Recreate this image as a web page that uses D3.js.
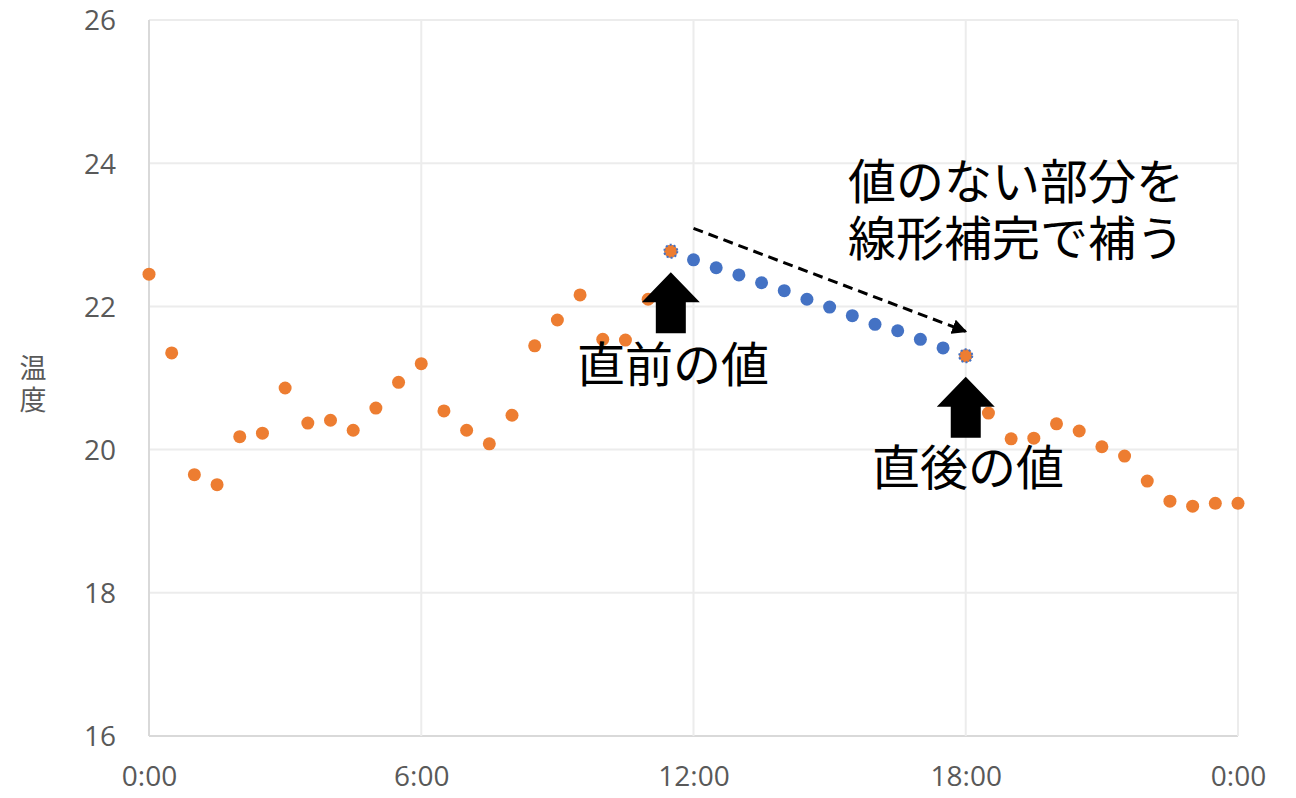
<!DOCTYPE html>
<html>
<head>
<meta charset="utf-8">
<script src="https://cdn.jsdelivr.net/npm/d3@7"></script>
<style>
  body { margin: 0; background: #fff; }
  svg { display: block; }
  .tick text { fill: #595959; font-family: "Open Sans", "Noto Sans", sans-serif; font-size: 28px; }
  .note { font-family: "Noto Sans CJK JP", sans-serif; font-size: 48px; fill: #000; }
</style>
</head>
<body>
<div id="chart"></div>
<script>
// hours of the day, every 30 minutes (24 = 0:00 next day)
var hours = d3.range(0, 24.5, 0.5);
// measured temperature, null where no value was recorded
var measured = [
  22.45, 21.35, 19.65, 19.51, 20.18, 20.23, 20.86, 20.37, 20.41, 20.27,
  20.58, 20.94, 21.20, 20.54, 20.27, 20.08, 20.48, 21.45, 21.81, 22.16,
  21.54, 21.53, 22.10, 22.77, null, null, null, null, null, null,
  null, null, null, null, null, null, 21.31, 20.51, 20.15, 20.16,
  20.36, 20.26, 20.04, 19.91, 19.56, 19.28, 19.21, 19.25, 19.25
];
// filled-in values, 11:30 to 18:00
var filledHours = d3.range(11.5, 18.5, 0.5);
var filled = [22.77, 22.65, 22.54, 22.44, 22.33, 22.22, 22.10, 21.99, 21.87, 21.75, 21.66, 21.54, 21.42, 21.31];
var xTicks = [0, 6, 12, 18, 24];
var yTicks = [16, 18, 20, 22, 24, 26];
var yTitle = ["温", "度"];

var width = 1296, height = 798;
var margin = { top: 20, right: 58, bottom: 62, left: 149 };
var graphWidth = width - margin.left - margin.right,
  graphHeight = height - margin.top - margin.bottom;

var svg = d3.select("#chart").append("svg").attr("width", width).attr("height", height);
var graph = svg.append("g").attr("transform", "translate(" + margin.left + "," + margin.top + ")");

var x = d3.scaleLinear().domain([0, 24]).range([0, graphWidth]);
var y = d3.scaleLinear().domain([16, 26]).range([graphHeight, 0]);

// gridlines
graph.append("g").selectAll("line").data(yTicks).enter().append("line")
  .attr("x1", 0).attr("x2", graphWidth)
  .attr("y1", function (d) { return y(d); }).attr("y2", function (d) { return y(d); })
  .attr("stroke", function (d) { return d === 16 ? "#d9d9d9" : "#ececec"; })
  .attr("stroke-width", 2);
graph.append("g").selectAll("line").data(xTicks).enter().append("line")
  .attr("y1", 0).attr("y2", graphHeight)
  .attr("x1", function (d) { return x(d); }).attr("x2", function (d) { return x(d); })
  .attr("stroke", function (d) { return d === 0 ? "#d9d9d9" : "#ececec"; })
  .attr("stroke-width", 2);

var xAxis = d3.axisBottom(x).tickValues(xTicks).tickSize(0).tickPadding(30)
  .tickFormat(function (d) { return (d % 24) + ":00"; });
var yAxis = d3.axisLeft(y).tickValues(yTicks).tickSize(0).tickPadding(33);
graph.append("g").attr("transform", "translate(0," + graphHeight + ")").call(xAxis)
  .call(function (g) { g.select(".domain").remove(); });
graph.append("g").call(yAxis)
  .call(function (g) { g.select(".domain").remove(); })
  .selectAll("text").attr("dy", "0.35em");

// axis title, one character per line
svg.append("text")
  .attr("text-anchor", "middle")
  .attr("fill", "#595959")
  .style("font-family", "'Noto Sans CJK JP', sans-serif")
  .style("font-size", "27px")
  .selectAll("tspan").data(yTitle).enter().append("tspan")
  .attr("x", 33).attr("y", function (d, i) { return 378 + i * 32; })
  .text(function (d) { return d; });

// series
var measuredPts = hours.map(function (h, i) { return { h: h, v: measured[i] }; })
  .filter(function (d) { return d.v !== null; });
var filledPts = filledHours.map(function (h, i) { return { h: h, v: filled[i] }; });
var shared = filledPts.filter(function (d) {
  return measuredPts.some(function (m) { return m.h === d.h; });
});

graph.append("g").selectAll("circle").data(filledPts).enter().append("circle")
  .attr("cx", function (d) { return x(d.h); })
  .attr("cy", function (d) { return y(d.v); })
  .attr("r", 6.5)
  .attr("fill", "#4472C4");
graph.append("g").selectAll("circle").data(measuredPts).enter().append("circle")
  .attr("cx", function (d) { return x(d.h); })
  .attr("cy", function (d) { return y(d.v); })
  .attr("r", 6.5)
  .attr("fill", "#ED7D31");
graph.append("g").selectAll("circle").data(shared).enter().append("circle")
  .attr("cx", function (d) { return x(d.h); })
  .attr("cy", function (d) { return y(d.v); })
  .attr("r", 6.5)
  .attr("fill", "none")
  .attr("stroke", "#4472C4")
  .attr("stroke-width", 2)
  .attr("stroke-dasharray", "2,2.1");

// block arrows under the two end points
var first = filledPts[0], last = filledPts[filledPts.length - 1];
var arrow = function (px, py) {
  var t = py + 21;
  return "M" + px + "," + t + " L" + (px + 29) + "," + (t + 30) + " L" + (px + 15) + "," + (t + 30) +
    " L" + (px + 15) + "," + (t + 61) + " L" + (px - 15) + "," + (t + 61) + " L" + (px - 15) + "," + (t + 30) +
    " L" + (px - 29) + "," + (t + 30) + " Z";
};
graph.append("path").attr("d", arrow(x(first.h), y(first.v))).attr("fill", "#000");
graph.append("path").attr("d", arrow(x(last.h), y(last.v))).attr("fill", "#000");

// dashed arrow
svg.append("defs").append("marker")
  .attr("id", "head").attr("viewBox", "0 0 10 10").attr("refX", 9).attr("refY", 5)
  .attr("markerWidth", 5).attr("markerHeight", 5).attr("orient", "auto")
  .append("path").attr("d", "M0,0 L10,5 L0,10 Z").attr("fill", "#000");
graph.append("line")
  .attr("x1", x(12)).attr("y1", y(23.09))
  .attr("x2", x(18)).attr("y2", y(21.65))
  .attr("stroke", "#000").attr("stroke-width", 3)
  .attr("stroke-dasharray", "10,6")
  .attr("marker-end", "url(#head)");

// notes
var note = svg.append("text").attr("class", "note");
note.append("tspan").attr("x", 848).attr("y", 199).text("値のない部分を");
note.append("tspan").attr("x", 848).attr("y", 256).text("線形補完で補う");
svg.append("text").attr("class", "note").attr("x", 577).attr("y", 382).text("直前の値");
svg.append("text").attr("class", "note").attr("x", 872).attr("y", 485).text("直後の値");
</script>
</body>
</html>
